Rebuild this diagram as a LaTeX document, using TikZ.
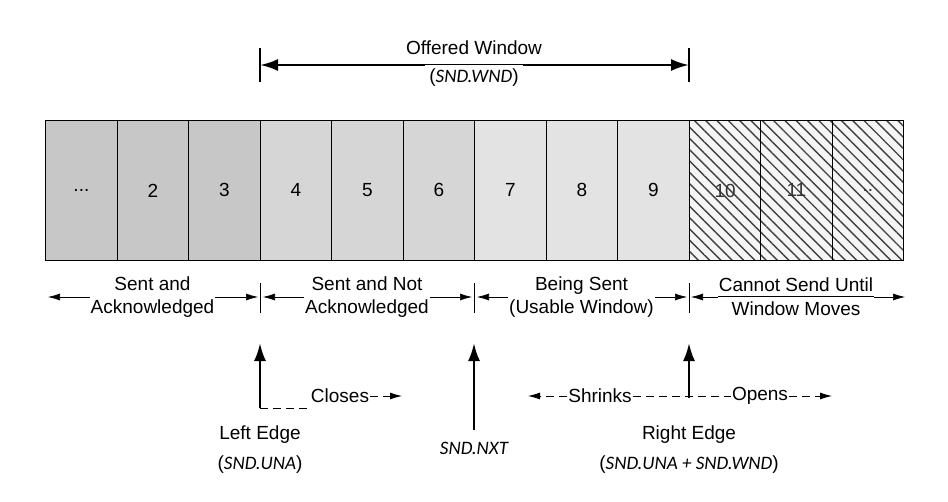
\documentclass[tikz,border=0pt]{standalone}
\usepackage{fontspec}
\setmainfont{Liberation Sans}
\newfontfamily\calfnt{Carlito}
\usetikzlibrary{arrows.meta,patterns.meta}
\def\dotsA{...}
\def\dotsB{..}
\begin{document}
\begin{tikzpicture}[x=1pt,y=-1pt,
  txt/.style={font=\fontsize{19}{23}\selectfont,align=center,inner sep=1pt},
  cell/.style={draw=black,line width=0.8pt},
  big/.style={line width=2.5pt,-{Latex[length=18pt,width=12pt]}},
  dim/.style={line width=0.6pt,-{Latex[length=12pt,width=7pt]}}]
\useasboundingbox (0,0) rectangle (948,501);
\def\xs{{45,117,188,260,331,403,474,546,617,689,760,832,903}}
\foreach \i/\lab/\col in {0/\dotsA/black!22,1/2/black!22,2/3/black!22,3/4/black!16,4/5/black!16,5/6/black!16,6/7/black!11,7/8/black!11,8/9/black!11}{
  \pgfmathsetmacro\xa{\xs[\i]}\pgfmathsetmacro\xb{\xs[\i+1]}
  \node[cell,fill=\col,minimum width={\xb-\xa},minimum height=140,anchor=north west,txt] (c\i) at (\xa,120) {\lab};
}
\foreach \i/\lab in {9/10,10/11,11/\dotsB}{
  \pgfmathsetmacro\xa{\xs[\i]}\pgfmathsetmacro\xb{\xs[\i+1]}
  \node[cell,fill=black!4,minimum width={\xb-\xa},minimum height=140,anchor=north west] (b\i) at (\xa,120) {};
  \node[cell,minimum width={\xb-\xa},minimum height=140,anchor=north west,pattern={Lines[angle=-45,distance=8pt,line width=1.4pt]},pattern color=black!75] (c\i) at (\xa,120) {};
  \node[txt,text=black!80] at (c\i.center) {\lab};
}
% offered window
\coordinate (ow1) at (260,65); \coordinate (ow2) at (689,65);
\draw[line width=2.5pt] (260,48)--(260,82) (689,48)--(689,82);
\draw[line width=2.5pt,{Latex[length=18pt,width=12pt]}-{Latex[length=18pt,width=12pt]}] (ow1)--(ow2);
\node[txt,fill=white] (ow) at (474,48) {Offered Window};
\node[txt,fill=white,inner sep=4pt] (snd) at (474,78) {(\textit{\calfnt SND.WND})};
% region labels
\foreach \a/\b/\t/\n in {45/260/{Sent and\\Acknowledged}/r1,260/474/{Sent and Not\\Acknowledged}/r2,474/689/{Being Sent\\(Usable Window)}/r3}{
  \node[txt] (\n) at ({(\a+\b)/2},297) {\t};
  \coordinate (\n l) at (\a+3,297); \coordinate (\n r) at (\b-2,297);
  \draw[dim] (\n.west |- 0,297) -- (\n l);
  \draw[dim] (\n.east |- 0,297) -- (\n r);
}
\node[txt] (r4) at (796,297) {Cannot Send Until\\[1pt]Window Moves};
\draw[line width=0.6pt] (r4.west|-0,296)--(r4.east|-0,296);
\coordinate (r4l) at (691,297); \coordinate (r4r) at (905,297);
\draw[dim] (r4.west |- 0,297) -- (r4l);
\draw[dim] (r4.east |- 0,297) -- (r4r);
\foreach \x in {260,474,689}{\draw[line width=0.6pt] (\x,283)--(\x,313);}
% bottom
\coordinate (le) at (260,408); \coordinate (let) at (260,343);
\draw[big] (le)--(let);
\node[txt] (cl) at (340,396) {Closes};
\coordinate (clE) at (402,396);
\draw[line width=0.8pt,dash pattern=on 8pt off 5pt] (le)--(cl.west|-le);
\draw[dim,line width=0.8pt,dash pattern=on 8pt off 5pt] (cl.east|-0,396)--(clE);
\node[txt] (len) at (260,435) {Left Edge};
\node[txt] (lei) at (260,465) {(\textit{\calfnt SND.UNA})};
\coordinate (nx) at (474,430); \coordinate (nxt) at (474,343);
\draw[big] (nx)--(nxt);
\node[txt] (nxl) at (474,448) {\calfnt\itshape SND.NXT};
\coordinate (re) at (689,398); \coordinate (ret) at (689,343);
\draw[big] (re)--(ret);
\node[txt] (sh) at (600,396) {Shrinks};
\node[txt] (op) at (760,396) {Opens};
\coordinate (shE) at (528,396); \coordinate (opE) at (832,396);
\draw[dim,line width=0.8pt,dash pattern=on 8pt off 5pt] (sh.west)--(shE);
\draw[line width=0.8pt,dash pattern=on 8pt off 5pt] (sh.east)--(op.west);
\draw[dim,line width=0.8pt,dash pattern=on 8pt off 5pt] (op.east)--(opE);
\node[txt] (ren) at (689,435) {Right Edge};
\node[txt] (rei) at (689,465) {(\textit{\calfnt SND.UNA + SND.WND})};
\end{tikzpicture}
\end{document}
